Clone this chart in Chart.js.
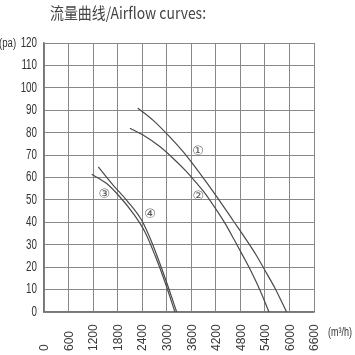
<!DOCTYPE html>
<html>
<head>
<meta charset="utf-8">
<script src="https://cdn.jsdelivr.net/npm/chart.js@4.4.1/dist/chart.umd.min.js"></script>
<style>
  html, body { margin: 0; padding: 0; background: #fff; }
  #wrap { width: 355px; height: 355px; }
</style>
</head>
<body>
<div id="wrap"><canvas id="chartOne" width="355" height="355"></canvas></div>
<script>
// airflow (m3/h) vs pressure (pa)
var flow1 = [2290, 2670, 3080, 3400, 3650, 3900, 4100, 4370, 4630, 4900, 5200, 5450, 5650, 5930];
var pres1 = [91, 85.5, 78, 71.5, 65.7, 59.6, 54.6, 47.6, 40.6, 33.4, 25, 17, 10.5, 0];
var flow2 = [2100, 2430, 2830, 3160, 3490, 3730, 3900, 4150, 4430, 4650, 4870, 5080, 5280, 5500];
var pres2 = [82, 78.8, 73.8, 68.5, 62.5, 57.5, 53.8, 47.3, 39.4, 32.2, 24.8, 17.5, 9.7, 0];
var flow3 = [1166, 1532, 1857, 2183, 2468, 2713, 2957, 3201];
var pres3 = [61.4, 57.3, 51.3, 43.9, 35.7, 25.3, 13.4, 0];
var flow4 = [1327, 1694, 2021, 2388, 2632, 2877, 3079, 3243];
var pres4 = [64.7, 56.5, 49.8, 40.9, 31.2, 19.4, 8.9, 0];

var curveLabels = ['\u2460', '\u2461', '\u2462', '\u2463'];
var labelFlow = [3764, 3771, 1474, 2590];
var labelPres = [71.6, 51.3, 52.5, 43.6];

var xTicks = [0, 600, 1200, 1800, 2400, 3000, 3600, 4200, 4800, 5400, 6000, 6600];
var yTicks = [0, 10, 20, 30, 40, 50, 60, 70, 80, 90, 100, 110, 120];

var titleText = '流量曲线/Airflow curves:';
var yUnit = '(pa)';
var xUnit = '(m\u00b3/h)';

function toPoints(xs, ys) {
    return xs.map(function (x, i) { return { x: x, y: ys[i] }; });
}

function curve(xs, ys) {
    return {
        data: toPoints(xs, ys),
        showLine: true,
        borderColor: '#4a4a4a',
        borderWidth: 1.2,
        pointRadius: 0,
        cubicInterpolationMode: 'monotone',
        fill: false
    };
}

// draw text squeezed horizontally, the picture uses a condensed face
function narrowText(ctx, text, x, y, align, sx) {
    ctx.save();
    ctx.translate(x, y);
    ctx.scale(sx, 1);
    ctx.textAlign = align;
    ctx.textBaseline = 'middle';
    ctx.fillText(text, 0, 0);
    ctx.restore();
}

var textPlugin = {
    id: 'texts',
    afterDraw: function (chart) {
        var ctx = chart.ctx;
        var xs = chart.scales.x;
        var ys = chart.scales.y;
        ctx.save();

        // title
        ctx.fillStyle = '#444';
        ctx.font = "16px 'Noto Sans CJK SC', 'Liberation Sans', sans-serif";
        narrowText(ctx, titleText, 50, 13, 'left', 0.87);

        // y tick labels
        ctx.fillStyle = '#333';
        ctx.font = "14px 'Liberation Sans', Arial, sans-serif";
        yTicks.forEach(function (v) {
            narrowText(ctx, String(v), 37, ys.getPixelForValue(v), 'right', 0.7);
        });

        // units
        ctx.font = "12px 'Liberation Sans', Arial, sans-serif";
        narrowText(ctx, yUnit, -1, 44, 'left', 0.8);
        narrowText(ctx, xUnit, 328, 333, 'left', 0.75);

        // x tick labels, rotated, starting from the bottom
        ctx.fillStyle = '#3a3a3a';
        ctx.font = "12px 'Liberation Sans', Arial, sans-serif";
        xTicks.forEach(function (v) {
            var px = xs.getPixelForValue(v);
            ctx.save();
            ctx.translate(px + 1, 351);
            ctx.rotate(-Math.PI / 2);
            ctx.textAlign = 'left';
            ctx.textBaseline = 'middle';
            ctx.fillText(String(v), 0, 0);
            ctx.restore();
        });

        // curve numbers
        ctx.fillStyle = '#555';
        ctx.font = "13px 'DejaVu Sans', sans-serif";
        ctx.textAlign = 'center';
        ctx.textBaseline = 'middle';
        curveLabels.forEach(function (t, i) {
            ctx.fillText(t, xs.getPixelForValue(labelFlow[i]), ys.getPixelForValue(labelPres[i]));
        });
        ctx.restore();
    }
};

document.addEventListener('DOMContentLoaded', function () {
    var chartOne = document.getElementById('chartOne');
    new Chart(chartOne, {
        type: 'scatter',
        data: {
            datasets: [
                curve(flow1, pres1),
                curve(flow2, pres2),
                curve(flow3, pres3),
                curve(flow4, pres4)
            ]
        },
        options: {
            responsive: false,
            animation: false,
            layout: { padding: { left: 0, right: 41, top: 43, bottom: 0 } },
            plugins: {
                legend: { display: false },
                tooltip: { enabled: false },
                title: { display: false }
            },
            scales: {
                x: {
                    type: 'linear',
                    min: 0,
                    max: 6600,
                    afterBuildTicks: function (scale) {
                        scale.ticks = xTicks.map(function (v) { return { value: v }; });
                    },
                    afterFit: function (scale) { scale.height = 43; },
                    ticks: { display: false },
                    grid: { color: '#888', lineWidth: 1, drawTicks: false },
                    border: { display: true, color: '#777', width: 1.5 }
                },
                y: {
                    min: 0,
                    max: 120,
                    afterBuildTicks: function (scale) {
                        scale.ticks = yTicks.map(function (v) { return { value: v }; });
                    },
                    afterFit: function (scale) { scale.width = 44; },
                    ticks: { display: false },
                    grid: { color: '#888', lineWidth: 1, drawTicks: false },
                    border: { display: true, color: '#777', width: 1.5 }
                }
            }
        },
        plugins: [textPlugin]
    });
});
</script>
</body>
</html>
